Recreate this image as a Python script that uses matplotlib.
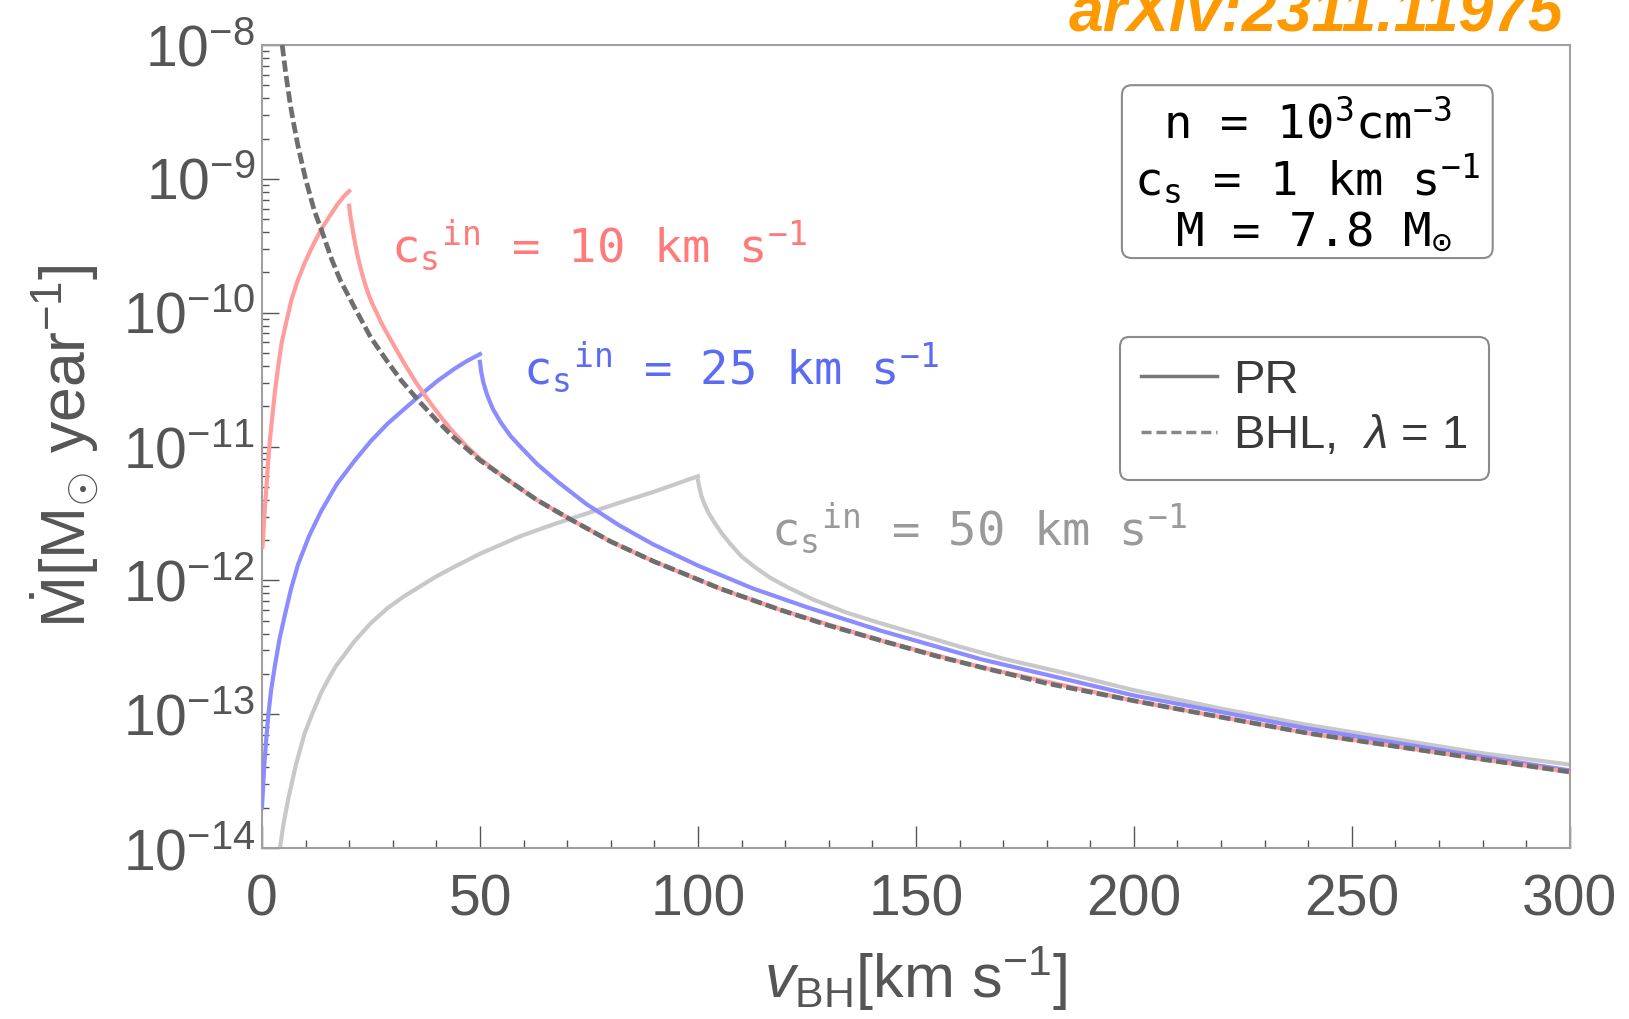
import matplotlib
matplotlib.use("Agg")
import matplotlib.pyplot as plt
from matplotlib.lines import Line2D
from matplotlib.patches import FancyBboxPatch
from matplotlib.ticker import LogLocator, MultipleLocator, NullFormatter

plt.rcParams["font.family"] = ["Liberation Sans", "DejaVu Sans"]
plt.rcParams["mathtext.fontset"] = "custom"
plt.rcParams["mathtext.rm"] = "Liberation Sans"
plt.rcParams["mathtext.it"] = "Liberation Sans:italic"
plt.rcParams["mathtext.bf"] = "Liberation Sans:bold"

# BHL, lambda = 1
v_bhl = [4.65, 5.5, 6.5, 7.3, 8.3, 10, 12, 13.6, 16, 18, 21.2, 25, 28.8, 32,
         36.5, 40, 44, 50, 56, 63, 70, 80, 90, 96, 105, 119, 130, 142, 155,
         165, 180, 200, 220, 240, 260, 280, 300]
mdot_bhl = [1.0e-8, 6.0e-9, 3.6e-9, 2.57e-9, 1.74e-9, 1.0e-9, 5.8e-10, 4.2e-10,
            2.5e-10, 1.74e-10, 1.1e-10, 6.5e-11, 4.3e-11, 3.1e-11, 2.1e-11,
            1.58e-11, 1.17e-11, 7.9e-12, 5.75e-12, 4.0e-12, 2.95e-12, 1.95e-12,
            1.38e-12, 1.15e-12, 8.7e-13, 6.0e-13, 4.6e-13, 3.55e-13, 2.7e-13,
            2.24e-13, 1.7e-13, 1.26e-13, 9.5e-14, 7.2e-14, 5.75e-14, 4.6e-14,
            3.7e-14]

# PR, c_s^in = 10 km/s  (a: rising branch, b: after the jump)
v_pr10_a = [0.1, 0.2, 0.4, 0.6, 0.8, 1.07, 1.4, 1.8, 2.3, 3.0, 3.7, 4.5, 5.5,
            6.8, 8.2, 9.8, 11.5, 13.6, 15.5, 17.4, 18.8, 20.0]
mdot_pr10_a = [1.78e-12, 1.9e-12, 2.5e-12, 3.2e-12, 4.0e-12, 5.2e-12, 7.6e-12,
               1.1e-11, 1.58e-11, 2.6e-11, 3.9e-11, 5.9e-11, 8.3e-11, 1.26e-10,
               1.74e-10, 2.35e-10, 3.1e-10, 4.2e-10, 5.25e-10, 6.5e-10,
               7.4e-10, 8.1e-10]
v_pr10_b = [20.0, 20.3, 20.9, 21.4, 22.0, 22.7, 23.5, 24.4, 25.3, 26.3, 27.3,
            28.6, 30.0, 32.6, 35.5, 38.7, 41.3, 44.1, 47, 50, 56, 63, 70, 80,
            90, 105, 119, 142, 165, 200, 240, 280, 300]
mdot_pr10_b = [6.3e-10, 5.25e-10, 4.0e-10, 3.25e-10, 2.6e-10, 2.1e-10, 1.7e-10,
               1.38e-10, 1.17e-10, 1.0e-10, 8.5e-11, 7.1e-11, 5.9e-11, 4.2e-11,
               2.95e-11, 2.1e-11, 1.62e-11, 1.26e-11, 1.0e-11, 8.1e-12,
               5.75e-12, 4.0e-12, 2.95e-12, 1.95e-12, 1.38e-12, 8.7e-13,
               6.0e-13, 3.55e-13, 2.24e-13, 1.26e-13, 7.2e-14, 4.6e-14, 3.7e-14]

# PR, c_s^in = 25 km/s
v_pr25_a = [0.0, 0.2, 0.5, 0.9, 1.45, 2.1, 2.97, 4.0, 5.25, 6.7, 8.3, 10.8,
            13.6, 17.2, 21.2, 25, 28.8, 32.6, 36.5, 40.3, 44.1, 47, 50.0]
mdot_pr25_a = [2.0e-14, 2.6e-14, 4.0e-14, 6.0e-14, 9.8e-14, 1.51e-13, 2.3e-13,
               3.6e-13, 5.5e-13, 8.7e-13, 1.32e-12, 2.14e-12, 3.3e-12, 5.25e-12,
               7.8e-12, 1.1e-11, 1.48e-11, 1.9e-11, 2.45e-11, 3.1e-11, 3.8e-11,
               4.35e-11, 4.9e-11]
v_pr25_b = [50.0, 50.3, 50.8, 51.7, 53, 54.8, 57, 59.5, 63.1, 68, 74.5, 82,
            89.7, 100, 112.6, 125, 142, 165, 200, 240, 280, 300]
mdot_pr25_b = [4.3e-11, 3.6e-11, 3.0e-11, 2.4e-11, 1.9e-11, 1.51e-11, 1.2e-11,
               9.8e-12, 7.4e-12, 5.4e-12, 3.7e-12, 2.57e-12, 1.86e-12, 1.29e-12,
               8.7e-13, 6.3e-13, 4.2e-13, 2.57e-13, 1.38e-13, 7.8e-14, 4.8e-14,
               3.8e-14]

# PR, c_s^in = 50 km/s
v_pr50_a = [3.9, 4.9, 6.0, 7.8, 9.8, 11.5, 13.6, 15.2, 17, 19, 21.2, 25, 28.8,
            32.6, 36.5, 40, 44.1, 50, 59.3, 67, 74.5, 82, 89.7, 95, 100]
mdot_pr50_a = [8.9e-15, 1.48e-14, 2.3e-14, 4.2e-14, 7.2e-14, 1.0e-13, 1.45e-13,
               1.82e-13, 2.3e-13, 2.8e-13, 3.5e-13, 4.8e-13, 6.2e-13, 7.6e-13,
               9.1e-13, 1.07e-12, 1.26e-12, 1.58e-12, 2.14e-12, 2.63e-12,
               3.16e-12, 3.8e-12, 4.57e-12, 5.25e-12, 6.0e-12]
v_pr50_b = [100, 100.3, 100.8, 101.5, 102.5, 103.8, 105.5, 107.5, 110, 113,
            116.5, 120.5, 126.4, 134, 141.7, 150, 160, 170, 185, 200, 220, 240,
            260, 280, 300]
mdot_pr50_b = [5.6e-12, 5.0e-12, 4.27e-12, 3.7e-12, 3.16e-12, 2.7e-12, 2.24e-12,
               1.86e-12, 1.51e-12, 1.26e-12, 1.05e-12, 8.9e-13, 7.2e-13,
               5.75e-13, 4.8e-13, 4.0e-13, 3.2e-13, 2.6e-13, 2.0e-13, 1.51e-13,
               1.1e-13, 8.3e-14, 6.5e-14, 5.1e-14, 4.2e-14]

labels_cs = ["10", "25", "50"]
x_ticks = [0, 50, 100, 150, 200, 250, 300]

red, blue, grey = "#ff9d9d", "#8c8cff", "#c8c8c8"
axis_grey = "#555555"

fig = plt.figure(figsize=(16.29, 10.19), dpi=100)
ax = fig.add_axes([0.1608, 0.1678, 0.8029, 0.7880])

lw = 3.0
ax.plot(v_pr50_a, mdot_pr50_a, color=grey, lw=lw, zorder=2)
ax.plot(v_pr50_b, mdot_pr50_b, color=grey, lw=lw, zorder=2)
ax.plot(v_pr25_a, mdot_pr25_a, color=blue, lw=lw, zorder=3)
ax.plot(v_pr25_b, mdot_pr25_b, color=blue, lw=lw, zorder=3)
ax.plot(v_pr10_a, mdot_pr10_a, color=red, lw=lw, zorder=4)
ax.plot(v_pr10_b, mdot_pr10_b, color=red, lw=lw, zorder=4)
ax.plot(v_bhl, mdot_bhl, color="#6e6e6e", lw=3.4, dashes=(2.4, 0.9), zorder=5)

ax.set_yscale("log")
ax.set_xlim(0, 300)
ax.set_ylim(1e-14, 1e-8)
ax.set_xticks(x_ticks)
ax.xaxis.set_minor_locator(MultipleLocator(10))
ax.yaxis.set_major_locator(LogLocator(base=10, numticks=10))
ax.yaxis.set_minor_locator(LogLocator(base=10, subs=range(2, 10), numticks=10))
ax.yaxis.set_minor_formatter(NullFormatter())

ax.tick_params(axis="x", which="major", direction="in", length=16, width=1,
               color=axis_grey, labelsize=41, labelcolor=axis_grey, pad=18)
ax.tick_params(axis="x", which="minor", direction="in", length=6, width=1,
               color=axis_grey)
ax.tick_params(axis="y", which="major", direction="in", length=12, width=1,
               color=axis_grey, labelsize=41, labelcolor=axis_grey, pad=5)
ax.tick_params(axis="y", which="minor", direction="in", length=5, width=1,
               color=axis_grey)
for sp in ax.spines.values():
    sp.set_color("#a0a0a0")
    sp.set_linewidth(1.5)

ax.set_ylabel(r"$\dot{\mathrm{M}}$[$\mathrm{M}_{\odot}$ year$^{-1}$]",
              fontsize=45, color=axis_grey)
ax.yaxis.set_label_coords(-0.123, 0.5)
ax.set_xlabel(r"$v_{\mathrm{BH}}$[km s$^{-1}$]", fontsize=44, color=axis_grey)
ax.xaxis.set_label_coords(0.5, -0.12)

# curve labels
mono = "DejaVu Sans Mono"
lab_pos = [(0.0986, 0.730), (0.1995, 0.578), (0.389, 0.377)]
lab_col = ["#ff7a7a", "#5c6cf2", "#9a9a9a"]
for cs, (x, y), c in zip(labels_cs, lab_pos, lab_col):
    ax.text(x, y, r"$\mathdefault{{c_s}^{in}}$ = " + cs + r" km s$^{\mathdefault{-1}}$",
            transform=ax.transAxes, fontsize=34, family=mono, color=c,
            va="baseline", ha="left", zorder=6)

# parameter box
ax.add_patch(FancyBboxPatch((0.6575, 0.7347), 0.2835, 0.2153,
                            boxstyle="round,pad=0,rounding_size=0.0076",
                            mutation_aspect=1.63, transform=ax.transAxes,
                            fc="white", ec="#8c8c8c", lw=1.5, zorder=6))
info_lines = [r"n = $\mathdefault{10^{3}cm^{-3}}$",
              r"$\mathdefault{c_s}$ = 1 km s$^{\mathdefault{-1}}$",
              r"M = 7.8 $\mathdefault{M_{\odot}}$"]
info_pos = [(0.799, 0.884), (0.799, 0.813), (0.804, 0.752)]
for s, (x, y) in zip(info_lines, info_pos):
    ax.text(x, y, s, transform=ax.transAxes, fontsize=34, family=mono,
            color="black", ha="center", va="baseline", zorder=7)

handles = [Line2D([], [], color="#777777", lw=2.5),
           Line2D([], [], color="#888888", lw=2.5, dashes=(2.9, 1.4))]
leg = ax.legend(handles, ["PR", r"BHL,  $\lambda$ = 1"], loc="upper left",
                bbox_to_anchor=(0.656, 0.636), fontsize=34, frameon=True,
                fancybox=True, framealpha=1, edgecolor="#8a8a8a",
                handlelength=1.6, handletextpad=0.35, labelspacing=0.25,
                borderpad=0.45, borderaxespad=0, labelcolor="#3a3a3a")
leg.get_frame().set_linewidth(1.5)

fig.text(0.960, 0.9696, "arXiv:2311.11975", ha="right", va="baseline",
         fontsize=45, fontweight="bold", fontstyle="italic", color="#ff9900")

fig.savefig("out.png", dpi=100)
